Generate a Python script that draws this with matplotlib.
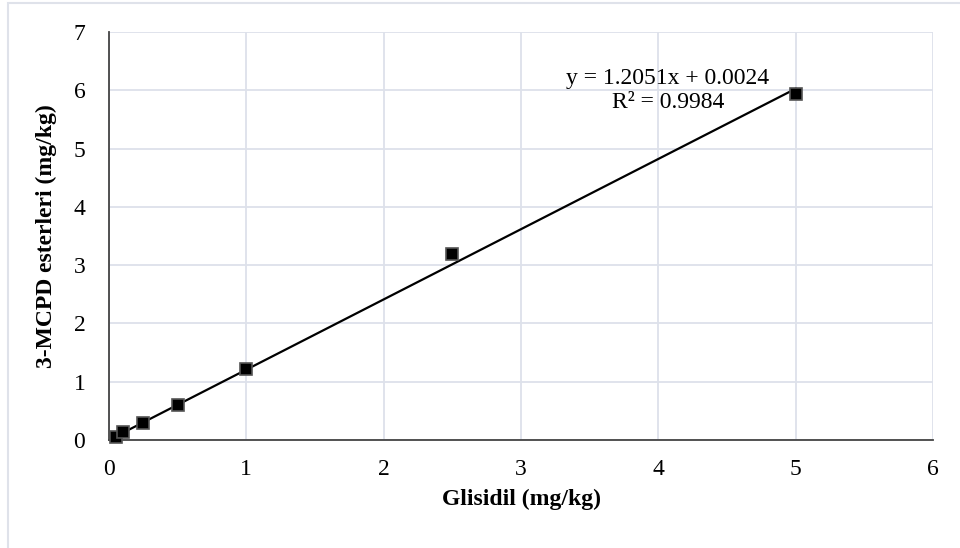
import matplotlib
matplotlib.use('Agg')
import matplotlib.pyplot as plt
from matplotlib.patches import Rectangle

plt.rcParams['font.family'] = ['Liberation Serif', 'DejaVu Serif']

# data
glisidil = [0.05, 0.1, 0.25, 0.5, 1.0, 2.5, 5.0]
mcpd = [0.06, 0.13, 0.30, 0.60, 1.22, 3.20, 5.93]
slope = 1.2051
intercept = 0.0024
r2 = 0.9984
x_ticks = [0, 1, 2, 3, 4, 5, 6]
y_ticks = [0, 1, 2, 3, 4, 5, 6, 7]

fig = plt.figure(figsize=(9.6, 5.48), dpi=100)
ax = fig.add_axes([0.1135, 0.197, 0.8585, 0.7446])

# outer chart border (left/top visible)
fig.patches.append(Rectangle((8/960, -0.1), 1.2, 1 - 3/548 + 0.1, transform=fig.transFigure,
                             fill=False, edgecolor='#dfe2ea', linewidth=1.5))

# trendline over the data range
xl = [min(glisidil), max(glisidil)]
yl = [slope*v + intercept for v in xl]
ax.plot(xl, yl, color='black', linewidth=1.6, zorder=3)

ax.plot(glisidil, mcpd, linestyle='none', marker='s', markersize=9,
        markerfacecolor='black', markeredgecolor='#555555', markeredgewidth=1.2,
        zorder=4, clip_on=False)

ax.set_xlim(0, 6)
ax.set_ylim(0, 7)
ax.set_xticks(x_ticks)
ax.set_yticks(y_ticks)
ax.grid(True, color='#dde1ea', linewidth=1.3)
ax.set_axisbelow(True)
for s in ['top', 'right']:
    ax.spines[s].set_visible(False)
ax.spines['left'].set_color('#444444')
ax.spines['bottom'].set_color('#444444')
ax.spines['left'].set_linewidth(1.3)
ax.spines['bottom'].set_linewidth(1.3)
ax.tick_params(axis='x', length=0, labelsize=17, pad=14)
ax.tick_params(axis='y', length=0, labelsize=17, pad=17)

ax.set_xlabel('Glisidil (mg/kg)', fontsize=17, fontweight='bold', labelpad=6)
ax.set_ylabel('3-MCPD esterleri (mg/kg)', fontsize=17, fontweight='bold', labelpad=12)

ax.text(4.07, 6.0, 'y = %.4fx + %.4f\nR² = %.4f' % (slope, intercept, r2),
        fontsize=17, ha='center', va='center', linespacing=1.2)

fig.savefig('out.png', dpi=100)
